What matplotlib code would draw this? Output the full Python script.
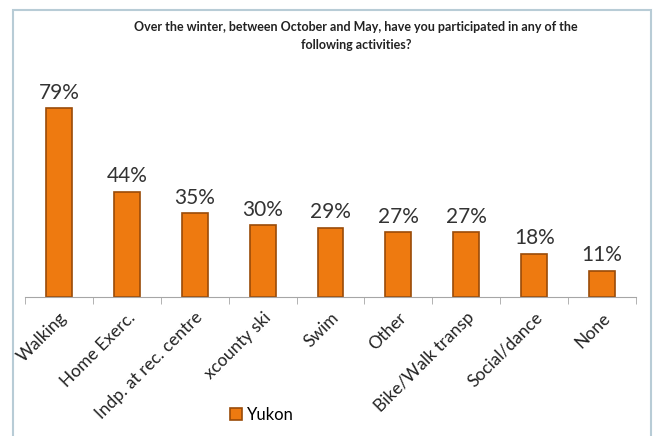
import matplotlib.pyplot as plt
from matplotlib.patches import Rectangle
import numpy as np

categories = ['Walking', 'Home Exerc.', 'Indp. at rec. centre', 'xcounty ski', 'Swim',
              'Other', 'Bike/Walk transp', 'Social/dance', 'None']
yukon = [79, 44, 35, 30, 29, 27, 27, 18, 11]
labels = ['79%', '44%', '35%', '30%', '29%', '27%', '27%', '18%', '11%']

plt.rcParams['font.family'] = ['Lato', 'DejaVu Sans']

fig = plt.figure(figsize=(6.59, 4.36), dpi=100)

# рамка вокруг диаграммы
fig.patches.append(Rectangle((13 / 659, -0.01), 638 / 659, 1 - 10 / 436 + 0.01,
                             transform=fig.transFigure, fill=False,
                             edgecolor='#B8CCD6', linewidth=1.5))

ax = fig.add_axes([25 / 659, 139 / 436, 611 / 659, 239 / 436])
x = np.arange(len(categories))
bars = ax.bar(x, yukon, width=0.38, color='#EE7A10', edgecolor='#9A4B08',
              linewidth=1.2, label='Yukon')

for xi, v, lab in zip(x, yukon, labels):
    ax.text(xi, v + 2.3, lab, ha='center', va='bottom', fontsize=15, color='#333333')

ax.set_xlim(-0.5, len(categories) - 0.5)
ax.set_ylim(0, 100)
ax.set_yticks([])
for s in ['left', 'right', 'top']:
    ax.spines[s].set_visible(False)
ax.spines['bottom'].set_color('#A6A6A6')

ax.set_xticks(x)
ax.set_xticklabels(categories, rotation=45, ha='right', rotation_mode='anchor',
                   fontsize=12.5, color='#222222')
ax.tick_params(axis='x', length=0, pad=9)
ax.set_xticks(np.arange(len(categories) + 1) - 0.5, minor=True)
ax.tick_params(axis='x', which='minor', length=5, color='#A6A6A6')

fig.text(356 / 659, 1 - 36 / 436,
         'Over the winter, between October and May, have you participated in any of the\nfollowing activities?',
         ha='center', va='center', fontsize=9, fontweight='bold', color='#222222',
         linespacing=1.55)

fig.legend(handles=[bars], labels=['Yukon'], loc='center', bbox_to_anchor=(262 / 659, 1 - 415 / 436),
           frameon=False, fontsize=12, handlelength=0.7, handleheight=0.7, handletextpad=0.3)

fig.savefig('out.png', dpi=100)
